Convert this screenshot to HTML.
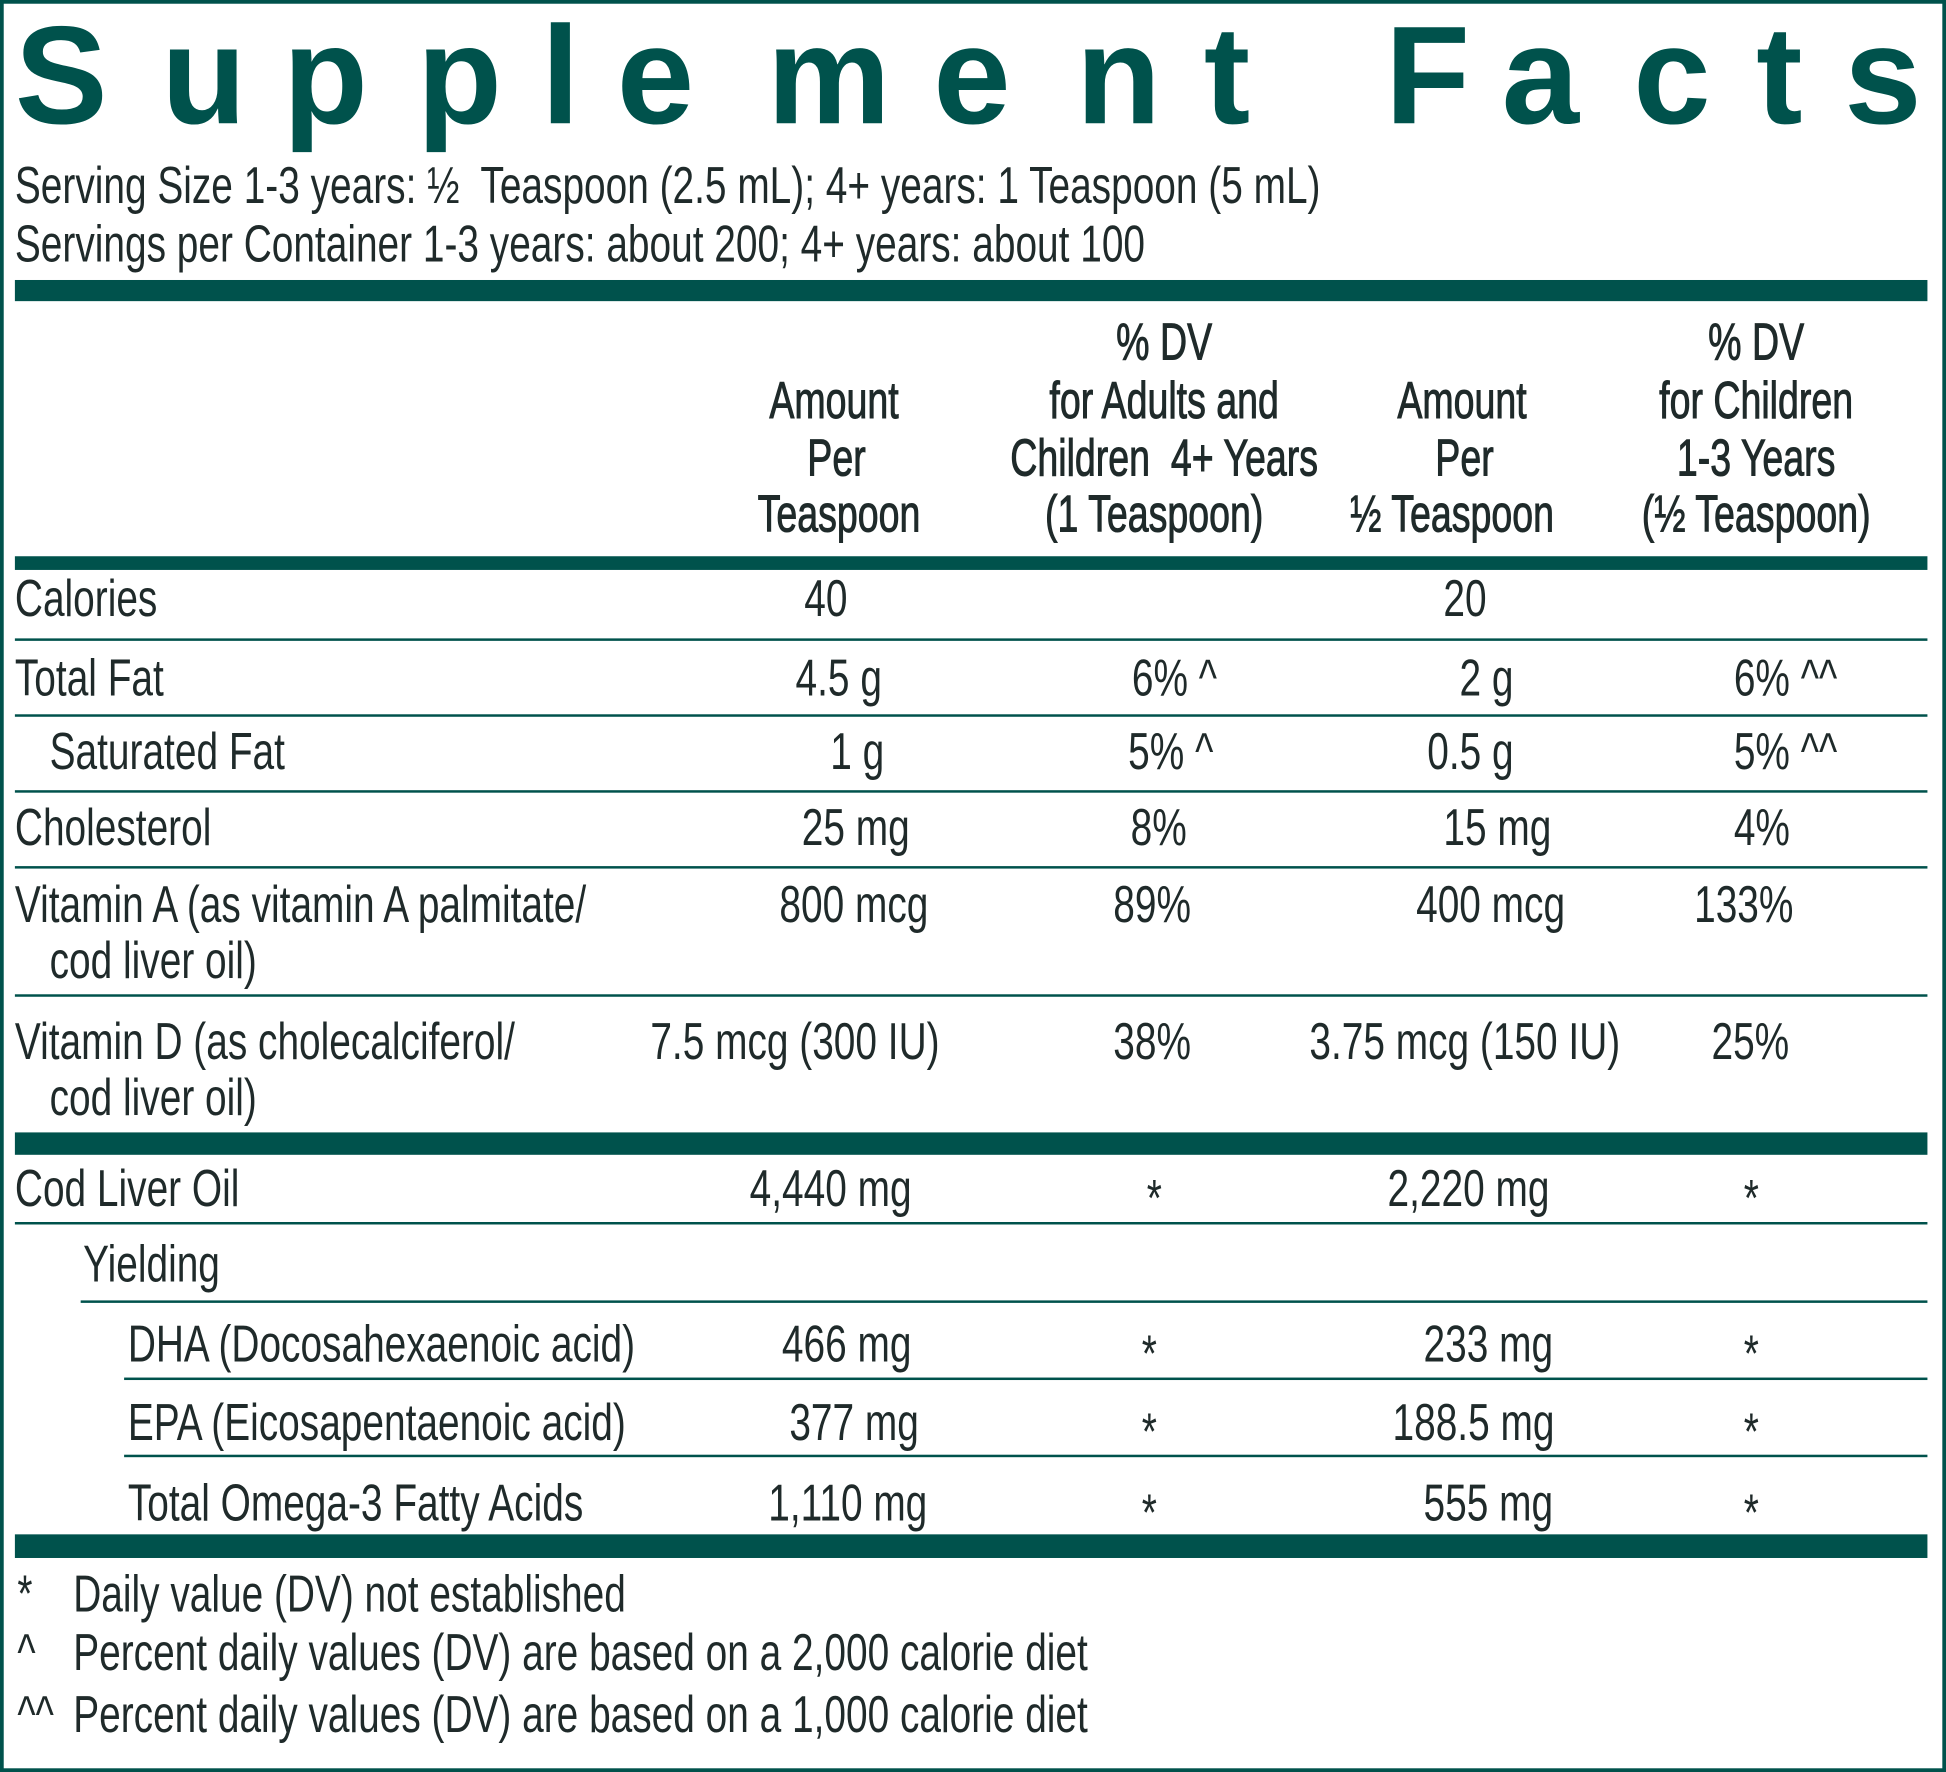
<!DOCTYPE html>
<html><head><meta charset="utf-8"><style>
html,body{margin:0;padding:0;background:#fff;}
#w{width:1946px;height:1772px;overflow:hidden;position:relative;}
#c{position:absolute;left:0;top:0;width:1568px;height:1424px;transform:scale(1.2411,1.2444);transform-origin:0 0;}
.t{position:absolute;font-family:"Liberation Sans",sans-serif;font-size:42px;line-height:42px;color:#1f2a2a;transform:scaleX(.745);transform-origin:0 50%;white-space:nowrap;}
.h{position:absolute;font-family:"Liberation Sans",sans-serif;font-size:42px;line-height:42px;color:#1f2a2a;white-space:nowrap;width:400px;text-align:center;transform:scaleX(.72);transform-origin:50% 50%;-webkit-text-stroke:0.8px #1f2a2a;}
.b{position:absolute;background:#00524c;}
.L{position:absolute;font-family:"Liberation Sans",sans-serif;font-weight:bold;font-size:112px;line-height:112px;color:#00524c;top:5px;}
</style></head><body><div id="w"><div id="c">
<div class="b" style="left:0;top:0;width:1568px;height:3px"></div>
<div class="b" style="left:0;top:0;width:3px;height:1424px"></div>
<div class="b" style="left:1565px;top:0;width:3px;height:1424px"></div>
<div class="b" style="left:0;top:1421px;width:1568px;height:3px"></div>

<div class="L" style="left:12px">S</div><div class="L" style="left:130px">u</div><div class="L" style="left:228px">p</div><div class="L" style="left:336px">p</div><div class="L" style="left:436px">l</div><div class="L" style="left:497px">e</div><div class="L" style="left:618px">m</div><div class="L" style="left:752px">e</div><div class="L" style="left:867px">n</div><div class="L" style="left:970px">t</div><div class="L" style="left:1116px">F</div><div class="L" style="left:1210px">a</div><div class="L" style="left:1316px">c</div><div class="L" style="left:1415px">t</div><div class="L" style="left:1486px">s</div>

<div class="t" style="left:12px;top:128px">Serving Size 1-3 years: ½&nbsp; Teaspoon (2.5 mL); 4+ years: 1 Teaspoon (5 mL)</div>
<div class="t" style="left:12px;top:175px">Servings per Container 1-3 years: about 200; 4+ years: about 100</div>
<div class="b" style="left:12px;top:225px;width:1541px;height:17px"></div>

<div class="h" style="left:738px;top:254px">% DV</div>
<div class="h" style="left:1215px;top:254px">% DV</div>
<div class="h" style="left:472px;top:301px">Amount</div>
<div class="h" style="left:738px;top:301px">for Adults and</div>
<div class="h" style="left:978px;top:301px">Amount</div>
<div class="h" style="left:1215px;top:301px">for Children</div>
<div class="h" style="left:474px;top:347px">Per</div>
<div class="h" style="left:738px;top:347px">Children&nbsp; 4+ Years</div>
<div class="h" style="left:980px;top:347px">Per</div>
<div class="h" style="left:1215px;top:347px">1-3 Years</div>
<div class="h" style="left:476px;top:392px">Teaspoon</div>
<div class="h" style="left:730px;top:392px">(1 Teaspoon)</div>
<div class="h" style="left:970px;top:392px">½ Teaspoon</div>
<div class="h" style="left:1215px;top:392px">(½ Teaspoon)</div>
<div class="b" style="left:12px;top:447px;width:1541px;height:11px"></div>

<div class="t" style="left:12px;top:460px">Calories</div>
<div class="t" style="left:648px;top:460px">40</div>
<div class="t" style="left:1163px;top:460px">20</div>
<div class="b" style="left:12px;top:513px;width:1541px;height:2px"></div>

<div class="t" style="left:12px;top:524px">Total Fat</div>
<div class="t" style="left:641px;top:524px">4.5 g</div>
<div class="t" style="left:912px;top:524px">6% ^</div>
<div class="t" style="left:1176px;top:524px">2 g</div>
<div class="t" style="left:1397px;top:524px">6% ^^</div>
<div class="b" style="left:12px;top:574px;width:1541px;height:2px"></div>

<div class="t" style="left:40px;top:583px">Saturated Fat</div>
<div class="t" style="left:669px;top:583px">1 g</div>
<div class="t" style="left:909px;top:583px">5% ^</div>
<div class="t" style="left:1150px;top:583px">0.5 g</div>
<div class="t" style="left:1397px;top:583px">5% ^^</div>
<div class="b" style="left:12px;top:635px;width:1541px;height:2px"></div>

<div class="t" style="left:12px;top:644px">Cholesterol</div>
<div class="t" style="left:646px;top:644px">25 mg</div>
<div class="t" style="left:911px;top:644px">8%</div>
<div class="t" style="left:1163px;top:644px">15 mg</div>
<div class="t" style="left:1397px;top:644px">4%</div>
<div class="b" style="left:12px;top:696px;width:1541px;height:2px"></div>

<div class="t" style="left:12px;top:706px">Vitamin A (as vitamin A palmitate/</div>
<div class="t" style="left:40px;top:751px">cod liver oil)</div>
<div class="t" style="left:628px;top:706px">800 mcg</div>
<div class="t" style="left:897px;top:706px">89%</div>
<div class="t" style="left:1141px;top:706px">400 mcg</div>
<div class="t" style="left:1365px;top:706px">133%</div>
<div class="b" style="left:12px;top:799px;width:1541px;height:2px"></div>

<div class="t" style="left:12px;top:816px">Vitamin D (as cholecalciferol/</div>
<div class="t" style="left:40px;top:861px">cod liver oil)</div>
<div class="t" style="left:524px;top:816px">7.5 mcg (300 IU)</div>
<div class="t" style="left:897px;top:816px">38%</div>
<div class="t" style="left:1055px;top:816px">3.75 mcg (150 IU)</div>
<div class="t" style="left:1379px;top:816px">25%</div>
<div class="b" style="left:12px;top:910px;width:1541px;height:18px"></div>

<div class="t" style="left:12px;top:934px">Cod Liver Oil</div>
<div class="t" style="left:604px;top:934px">4,440 mg</div>
<div class="t" style="left:924px;top:942px">*</div>
<div class="t" style="left:1118px;top:934px">2,220 mg</div>
<div class="t" style="left:1405px;top:942px">*</div>
<div class="b" style="left:12px;top:982px;width:1541px;height:2px"></div>

<div class="t" style="left:67px;top:995px">Yielding</div>
<div class="b" style="left:65px;top:1045px;width:1488px;height:2px"></div>

<div class="t" style="left:103px;top:1059px">DHA (Docosahexaenoic acid)</div>
<div class="t" style="left:630px;top:1059px">466 mg</div>
<div class="t" style="left:920px;top:1067px">*</div>
<div class="t" style="left:1147px;top:1059px">233 mg</div>
<div class="t" style="left:1405px;top:1067px">*</div>
<div class="b" style="left:100px;top:1107px;width:1453px;height:2px"></div>

<div class="t" style="left:103px;top:1122px">EPA (Eicosapentaenoic acid)</div>
<div class="t" style="left:636px;top:1122px">377 mg</div>
<div class="t" style="left:920px;top:1130px">*</div>
<div class="t" style="left:1122px;top:1122px">188.5 mg</div>
<div class="t" style="left:1405px;top:1130px">*</div>
<div class="b" style="left:100px;top:1169px;width:1453px;height:2px"></div>

<div class="t" style="left:103px;top:1187px">Total Omega-3 Fatty Acids</div>
<div class="t" style="left:619px;top:1187px">1,110 mg</div>
<div class="t" style="left:920px;top:1195px">*</div>
<div class="t" style="left:1147px;top:1187px">555 mg</div>
<div class="t" style="left:1405px;top:1195px">*</div>
<div class="b" style="left:12px;top:1233px;width:1541px;height:19px"></div>

<div class="t" style="left:14px;top:1260px">*</div>
<div class="t" style="left:59px;top:1260px">Daily value (DV) not established</div>
<div class="t" style="left:14px;top:1307px">^</div>
<div class="t" style="left:59px;top:1307px">Percent daily values (DV) are based on a 2,000 calorie diet</div>
<div class="t" style="left:14px;top:1357px">^^</div>
<div class="t" style="left:59px;top:1357px">Percent daily values (DV) are based on a 1,000 calorie diet</div>
</div></div></body></html>
